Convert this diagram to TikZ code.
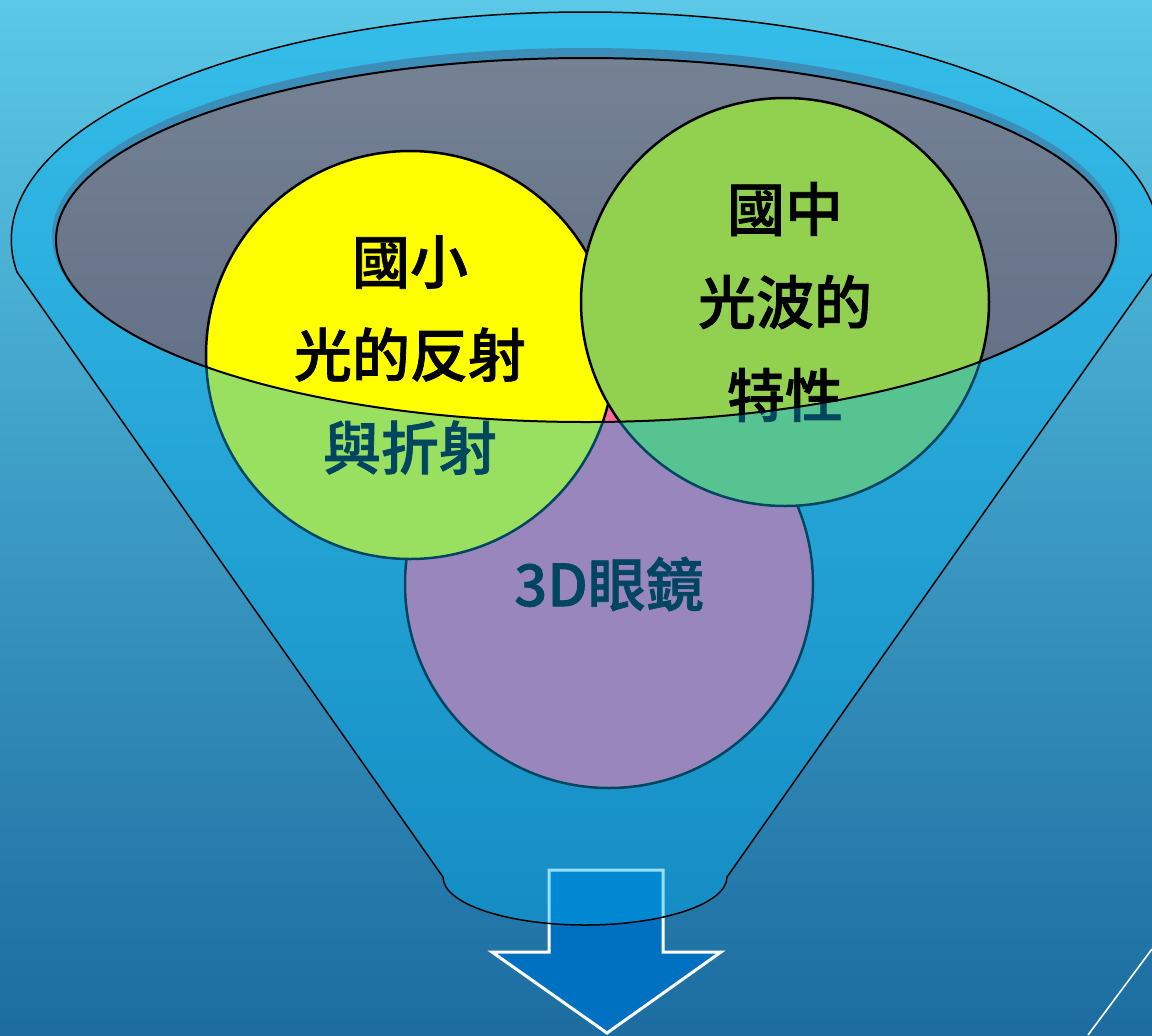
\documentclass[tikz,border=0pt]{standalone}
\usepackage{fontspec}
\newfontfamily\cjk{Noto Sans CJK TC Medium}[UprightFeatures={FakeBold=1.2}]
\definecolor{bgtop}{RGB}{90,200,230}
\definecolor{bgbot}{RGB}{28,108,160}
\definecolor{funnelblue}{RGB}{0,176,240}
\definecolor{grayt}{RGB}{116,130,148}
\definecolor{grayb}{RGB}{98,110,132}
\definecolor{shadowgray}{RGB}{100,118,145}
\definecolor{cyellow}{RGB}{255,255,0}
\definecolor{cgreen}{RGB}{146,208,80}
\definecolor{cpink}{RGB}{255,107,155}
\definecolor{arrowblue}{RGB}{0,112,192}
\begin{document}
\begin{tikzpicture}[x=0.5pt,y=-0.5pt,
  bubble/.style={circle, draw=black, line width=1.25pt, minimum size=204pt,
    inner sep=0pt, align=center,
    font=\cjk\fontsize{29}{46.5}\selectfont},
  funnelline/.style={draw=black, line width=0.75pt},
  arrowshape/.style={fill=arrowblue, draw=white, line width=1.5pt, line join=miter}]
\useasboundingbox (0,0) rectangle (1152,1035);
\shade[top color=bgtop, bottom color=bgbot] (0,0) rectangle (1152,1035);
\draw[white, line width=0.8pt] (1152,949) -- (1088,1035);
% arrow
\draw[arrowshape] (549,870) -- (663,870) -- (663,952) -- (721,952) -- (607,1033) -- (492,952) -- (549,952) -- cycle;
% inner opening
\fill[shadowgray] (586,236) ellipse [x radius=534, y radius=188];
\shade[top color=grayt, bottom color=grayb] (586,240) ellipse [x radius=530, y radius=182];
% circles
\node[bubble, fill=cpink] (c) at (609,584) {3D眼鏡};
\node[bubble, fill=cyellow] (a) at (410,355) {國小\\光的反射\\與折射};
\node[bubble, fill=cgreen] (b) at (785,302) {國中\\光波的\\特性};
% translucent funnel body
\fill[funnelblue, fill opacity=0.4, even odd rule]
  (17,272) arc[start angle=171.93, end angle=368.07, x radius=574, y radius=228]
  -- (727,877) arc[start angle=0, end angle=180, x radius=142, y radius=48] -- cycle
  (586,240) ellipse [x radius=530, y radius=182];
% outlines
\draw[funnelline]
  (17,272) arc[start angle=171.93, end angle=368.07, x radius=574, y radius=228]
  -- (727,877) arc[start angle=0, end angle=180, x radius=142, y radius=48] -- cycle;
\draw[black, line width=1pt] (586,240) ellipse [x radius=530, y radius=182];
\end{tikzpicture}
\end{document}
